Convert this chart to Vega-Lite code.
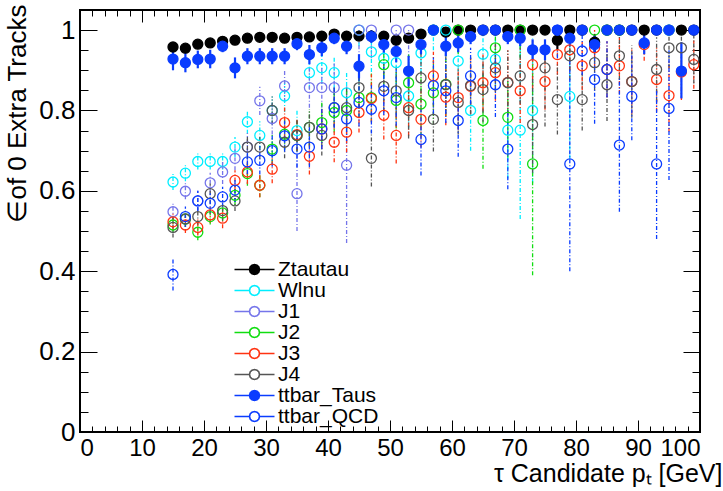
{
"$schema": "https://vega.github.io/schema/vega-lite/v6.json",
"width": 620, "height": 422,
"autosize": {"type": "none"},
"padding": {"left": 80, "top": 10, "right": 23, "bottom": 59},
"config": {"font": "Liberation Sans", "view": {"stroke": "#000", "strokeWidth": 2},
  "axis": {"domain": false, "grid": false, "tickColor": "#000", "tickWidth": 1, "labelColor": "#000", "titleColor": "#000", "labelFont": "Liberation Sans", "titleFont": "Liberation Sans", "titleFontWeight": "normal"}},
"datasets": {"d": [
{"s":"Ztautau","x":15,"v":0.958,"l":0.95,"h":0.966},{"s":"Ztautau","x":17,"v":0.955,"l":0.947,"h":0.963},{"s":"Ztautau","x":19,"v":0.965,"l":0.957,"h":0.973},{"s":"Ztautau","x":21,"v":0.968,"l":0.96,"h":0.976},{"s":"Ztautau","x":23,"v":0.972,"l":0.964,"h":0.98},{"s":"Ztautau","x":25,"v":0.975,"l":0.967,"h":0.983},{"s":"Ztautau","x":27,"v":0.98,"l":0.972,"h":0.988},{"s":"Ztautau","x":29,"v":0.982,"l":0.974,"h":0.99},{"s":"Ztautau","x":31,"v":0.982,"l":0.974,"h":0.99},{"s":"Ztautau","x":33,"v":0.98,"l":0.972,"h":0.988},{"s":"Ztautau","x":35,"v":0.982,"l":0.974,"h":0.99},{"s":"Ztautau","x":37,"v":0.983,"l":0.975,"h":0.991},{"s":"Ztautau","x":39,"v":0.985,"l":0.977,"h":0.993},{"s":"Ztautau","x":41,"v":0.99,"l":0.982,"h":0.998},{"s":"Ztautau","x":43,"v":0.985,"l":0.977,"h":0.993},{"s":"Ztautau","x":45,"v":0.985,"l":0.977,"h":0.993},{"s":"Ztautau","x":47,"v":0.985,"l":0.977,"h":0.993},{"s":"Ztautau","x":49,"v":0.985,"l":0.977,"h":0.993},{"s":"Ztautau","x":51,"v":0.975,"l":0.965,"h":0.985},{"s":"Ztautau","x":53,"v":0.98,"l":0.97,"h":0.99},{"s":"Ztautau","x":55,"v":0.99,"l":0.98,"h":1},{"s":"Ztautau","x":57,"v":1,"l":0.99,"h":1},{"s":"Ztautau","x":59,"v":0.995,"l":0.985,"h":1},{"s":"Ztautau","x":61,"v":1,"l":1,"h":1},{"s":"Ztautau","x":63,"v":1,"l":1,"h":1},{"s":"Ztautau","x":65,"v":1,"l":1,"h":1},{"s":"Ztautau","x":67,"v":1,"l":1,"h":1},{"s":"Ztautau","x":69,"v":1,"l":1,"h":1},{"s":"Ztautau","x":71,"v":1,"l":1,"h":1},{"s":"Ztautau","x":73,"v":1,"l":1,"h":1},{"s":"Ztautau","x":75,"v":1,"l":1,"h":1},{"s":"Ztautau","x":77,"v":0.975,"l":0.95,"h":0.995},{"s":"Ztautau","x":79,"v":1,"l":1,"h":1},{"s":"Ztautau","x":81,"v":1,"l":1,"h":1},{"s":"Ztautau","x":83,"v":0.97,"l":0.945,"h":0.99},{"s":"Ztautau","x":85,"v":1,"l":1,"h":1},{"s":"Ztautau","x":87,"v":1,"l":1,"h":1},{"s":"Ztautau","x":89,"v":1,"l":1,"h":1},{"s":"Ztautau","x":91,"v":1,"l":1,"h":1},{"s":"Ztautau","x":93,"v":1,"l":1,"h":1},{"s":"Ztautau","x":95,"v":1,"l":1,"h":1},{"s":"Ztautau","x":97,"v":1,"l":1,"h":1},{"s":"Ztautau","x":99,"v":1,"l":1,"h":1},
{"s":"Wlnu","x":15,"v":0.622,"l":0.602,"h":0.642},{"s":"Wlnu","x":17,"v":0.644,"l":0.624,"h":0.664},{"s":"Wlnu","x":19,"v":0.673,"l":0.653,"h":0.693},{"s":"Wlnu","x":21,"v":0.673,"l":0.653,"h":0.693},{"s":"Wlnu","x":23,"v":0.673,"l":0.653,"h":0.693},{"s":"Wlnu","x":25,"v":0.709,"l":0.684,"h":0.734},{"s":"Wlnu","x":27,"v":0.772,"l":0.742,"h":0.802},{"s":"Wlnu","x":29,"v":0.738,"l":0.703,"h":0.773},{"s":"Wlnu","x":31,"v":0.8,"l":0.765,"h":0.835},{"s":"Wlnu","x":33,"v":0.836,"l":0.796,"h":0.876},{"s":"Wlnu","x":35,"v":0.75,"l":0.7,"h":0.8},{"s":"Wlnu","x":37,"v":0.894,"l":0.854,"h":0.934},{"s":"Wlnu","x":39,"v":0.906,"l":0.866,"h":0.946},{"s":"Wlnu","x":41,"v":0.894,"l":0.854,"h":0.934},{"s":"Wlnu","x":43,"v":0.844,"l":0.794,"h":0.894},{"s":"Wlnu","x":45,"v":1,"l":0.96,"h":1},{"s":"Wlnu","x":47,"v":0.946,"l":0.896,"h":0.996},{"s":"Wlnu","x":49,"v":0.93,"l":0.88,"h":0.98},{"s":"Wlnu","x":51,"v":0.919,"l":0.859,"h":0.979},{"s":"Wlnu","x":53,"v":0.836,"l":0.756,"h":0.916},{"s":"Wlnu","x":55,"v":0.943,"l":0.893,"h":0.993},{"s":"Wlnu","x":57,"v":1,"l":0.95,"h":1},{"s":"Wlnu","x":59,"v":1,"l":0.95,"h":1},{"s":"Wlnu","x":61,"v":0.923,"l":0.853,"h":0.993},{"s":"Wlnu","x":63,"v":0.8,"l":0.7,"h":0.9},{"s":"Wlnu","x":65,"v":0.94,"l":0.88,"h":1},{"s":"Wlnu","x":67,"v":0.927,"l":0.857,"h":0.997},{"s":"Wlnu","x":69,"v":0.751,"l":0.631,"h":0.871},{"s":"Wlnu","x":71,"v":0.751,"l":0.53,"h":0.97},{"s":"Wlnu","x":73,"v":0.8,"l":0.62,"h":0.98},{"s":"Wlnu","x":79,"v":0.835,"l":0.68,"h":0.99},{"s":"Wlnu","x":95,"v":1,"l":1,"h":1},
{"s":"J1","x":15,"v":0.548,"l":0.528,"h":0.568},{"s":"J1","x":17,"v":0.599,"l":0.579,"h":0.619},{"s":"J1","x":19,"v":0.575,"l":0.55,"h":0.6},{"s":"J1","x":21,"v":0.62,"l":0.595,"h":0.645},{"s":"J1","x":23,"v":0.647,"l":0.617,"h":0.677},{"s":"J1","x":25,"v":0.681,"l":0.651,"h":0.711},{"s":"J1","x":27,"v":0.709,"l":0.674,"h":0.744},{"s":"J1","x":29,"v":0.824,"l":0.789,"h":0.859},{"s":"J1","x":31,"v":0.78,"l":0.74,"h":0.82},{"s":"J1","x":33,"v":0.861,"l":0.821,"h":0.901},{"s":"J1","x":35,"v":0.593,"l":0.5,"h":0.69},{"s":"J1","x":37,"v":0.857,"l":0.807,"h":0.907},{"s":"J1","x":39,"v":0.857,"l":0.807,"h":0.907},{"s":"J1","x":41,"v":0.857,"l":0.797,"h":0.917},{"s":"J1","x":43,"v":0.664,"l":0.47,"h":0.86},{"s":"J1","x":45,"v":1,"l":0.93,"h":1},{"s":"J1","x":47,"v":1,"l":0.93,"h":1},{"s":"J1","x":51,"v":1,"l":0.93,"h":1},{"s":"J1","x":53,"v":1,"l":0.93,"h":1},
{"s":"J2","x":15,"v":0.515,"l":0.495,"h":0.535},{"s":"J2","x":17,"v":0.53,"l":0.51,"h":0.55},{"s":"J2","x":19,"v":0.497,"l":0.477,"h":0.517},{"s":"J2","x":21,"v":0.536,"l":0.516,"h":0.556},{"s":"J2","x":23,"v":0.545,"l":0.525,"h":0.565},{"s":"J2","x":25,"v":0.589,"l":0.564,"h":0.614},{"s":"J2","x":27,"v":0.643,"l":0.613,"h":0.673},{"s":"J2","x":29,"v":0.614,"l":0.584,"h":0.644},{"s":"J2","x":31,"v":0.704,"l":0.669,"h":0.739},{"s":"J2","x":33,"v":0.741,"l":0.701,"h":0.781},{"s":"J2","x":35,"v":0.738,"l":0.698,"h":0.778},{"s":"J2","x":37,"v":0.758,"l":0.713,"h":0.803},{"s":"J2","x":39,"v":0.77,"l":0.72,"h":0.82},{"s":"J2","x":41,"v":0.795,"l":0.745,"h":0.845},{"s":"J2","x":43,"v":0.8,"l":0.75,"h":0.85},{"s":"J2","x":45,"v":0.832,"l":0.782,"h":0.882},{"s":"J2","x":47,"v":0.832,"l":0.772,"h":0.892},{"s":"J2","x":49,"v":0.914,"l":0.864,"h":0.964},{"s":"J2","x":51,"v":0.825,"l":0.755,"h":0.895},{"s":"J2","x":53,"v":0.869,"l":0.799,"h":0.939},{"s":"J2","x":55,"v":0.816,"l":0.736,"h":0.896},{"s":"J2","x":57,"v":0.844,"l":0.764,"h":0.924},{"s":"J2","x":59,"v":0.865,"l":0.785,"h":0.945},{"s":"J2","x":61,"v":1,"l":0.94,"h":1},{"s":"J2","x":65,"v":0.775,"l":0.655,"h":0.895},{"s":"J2","x":67,"v":0.956,"l":0.906,"h":1},{"s":"J2","x":69,"v":0.783,"l":0.683,"h":0.883},{"s":"J2","x":71,"v":1,"l":0.93,"h":1},{"s":"J2","x":73,"v":0.667,"l":0.39,"h":0.94},{"s":"J2","x":83,"v":1,"l":1,"h":1},{"s":"J2","x":85,"v":1,"l":1,"h":1},{"s":"J2","x":87,"v":1,"l":1,"h":1},
{"s":"J3","x":15,"v":0.523,"l":0.503,"h":0.543},{"s":"J3","x":17,"v":0.515,"l":0.495,"h":0.535},{"s":"J3","x":19,"v":0.509,"l":0.489,"h":0.529},{"s":"J3","x":21,"v":0.54,"l":0.52,"h":0.56},{"s":"J3","x":23,"v":0.532,"l":0.507,"h":0.557},{"s":"J3","x":25,"v":0.626,"l":0.601,"h":0.651},{"s":"J3","x":27,"v":0.647,"l":0.617,"h":0.677},{"s":"J3","x":29,"v":0.614,"l":0.584,"h":0.644},{"s":"J3","x":31,"v":0.654,"l":0.619,"h":0.689},{"s":"J3","x":33,"v":0.77,"l":0.73,"h":0.81},{"s":"J3","x":35,"v":0.74,"l":0.7,"h":0.78},{"s":"J3","x":37,"v":0.686,"l":0.641,"h":0.731},{"s":"J3","x":39,"v":0.754,"l":0.704,"h":0.804},{"s":"J3","x":41,"v":0.721,"l":0.671,"h":0.771},{"s":"J3","x":43,"v":0.746,"l":0.696,"h":0.796},{"s":"J3","x":45,"v":0.795,"l":0.745,"h":0.845},{"s":"J3","x":47,"v":0.83,"l":0.77,"h":0.89},{"s":"J3","x":49,"v":0.788,"l":0.728,"h":0.848},{"s":"J3","x":51,"v":0.738,"l":0.668,"h":0.808},{"s":"J3","x":53,"v":0.807,"l":0.737,"h":0.877},{"s":"J3","x":55,"v":0.778,"l":0.708,"h":0.848},{"s":"J3","x":57,"v":0.886,"l":0.826,"h":0.946},{"s":"J3","x":59,"v":0.833,"l":0.763,"h":0.903},{"s":"J3","x":61,"v":0.832,"l":0.752,"h":0.912},{"s":"J3","x":63,"v":0.86,"l":0.79,"h":0.93},{"s":"J3","x":65,"v":0.869,"l":0.799,"h":0.939},{"s":"J3","x":67,"v":0.894,"l":0.824,"h":0.964},{"s":"J3","x":69,"v":0.87,"l":0.79,"h":0.95},{"s":"J3","x":71,"v":0.849,"l":0.769,"h":0.929},{"s":"J3","x":73,"v":0.914,"l":0.854,"h":0.974},{"s":"J3","x":75,"v":0.872,"l":0.802,"h":0.942},{"s":"J3","x":77,"v":0.939,"l":0.889,"h":0.989},{"s":"J3","x":79,"v":0.951,"l":0.901,"h":1},{"s":"J3","x":81,"v":0.911,"l":0.851,"h":0.971},{"s":"J3","x":83,"v":0.956,"l":0.906,"h":1},{"s":"J3","x":85,"v":0.902,"l":0.832,"h":0.972},{"s":"J3","x":87,"v":0.911,"l":0.841,"h":0.981},{"s":"J3","x":89,"v":0.872,"l":0.792,"h":0.952},{"s":"J3","x":91,"v":0.964,"l":0.924,"h":1},{"s":"J3","x":93,"v":0.877,"l":0.797,"h":0.957},{"s":"J3","x":95,"v":0.837,"l":0.747,"h":0.927},{"s":"J3","x":97,"v":0.896,"l":0.826,"h":0.966},{"s":"J3","x":99,"v":0.914,"l":0.854,"h":0.974},
{"s":"J4","x":15,"v":0.509,"l":0.484,"h":0.534},{"s":"J4","x":17,"v":0.53,"l":0.51,"h":0.55},{"s":"J4","x":19,"v":0.536,"l":0.516,"h":0.556},{"s":"J4","x":21,"v":0.593,"l":0.568,"h":0.618},{"s":"J4","x":23,"v":0.551,"l":0.526,"h":0.576},{"s":"J4","x":25,"v":0.575,"l":0.55,"h":0.6},{"s":"J4","x":27,"v":0.709,"l":0.679,"h":0.739},{"s":"J4","x":29,"v":0.709,"l":0.679,"h":0.739},{"s":"J4","x":31,"v":0.8,"l":0.765,"h":0.835},{"s":"J4","x":33,"v":0.721,"l":0.681,"h":0.761},{"s":"J4","x":35,"v":0.738,"l":0.698,"h":0.778},{"s":"J4","x":37,"v":0.758,"l":0.713,"h":0.803},{"s":"J4","x":39,"v":0.738,"l":0.688,"h":0.788},{"s":"J4","x":41,"v":0.807,"l":0.757,"h":0.857},{"s":"J4","x":43,"v":0.807,"l":0.757,"h":0.857},{"s":"J4","x":45,"v":0.857,"l":0.807,"h":0.907},{"s":"J4","x":47,"v":0.681,"l":0.611,"h":0.751},{"s":"J4","x":49,"v":0.86,"l":0.8,"h":0.92},{"s":"J4","x":51,"v":0.849,"l":0.789,"h":0.909},{"s":"J4","x":53,"v":0.8,"l":0.73,"h":0.87},{"s":"J4","x":55,"v":0.881,"l":0.821,"h":0.941},{"s":"J4","x":57,"v":0.778,"l":0.698,"h":0.858},{"s":"J4","x":59,"v":0.864,"l":0.794,"h":0.934},{"s":"J4","x":61,"v":0.82,"l":0.74,"h":0.9},{"s":"J4","x":63,"v":0.862,"l":0.792,"h":0.932},{"s":"J4","x":65,"v":0.852,"l":0.772,"h":0.932},{"s":"J4","x":67,"v":0.906,"l":0.846,"h":0.966},{"s":"J4","x":69,"v":0.869,"l":0.789,"h":0.949},{"s":"J4","x":71,"v":0.886,"l":0.816,"h":0.956},{"s":"J4","x":73,"v":0.765,"l":0.645,"h":0.885},{"s":"J4","x":75,"v":0.906,"l":0.76,"h":0.976},{"s":"J4","x":77,"v":0.827,"l":0.74,"h":0.917},{"s":"J4","x":79,"v":0.936,"l":0.876,"h":0.996},{"s":"J4","x":81,"v":0.827,"l":0.75,"h":0.917},{"s":"J4","x":83,"v":0.919,"l":0.849,"h":0.989},{"s":"J4","x":85,"v":0.864,"l":0.774,"h":0.954},{"s":"J4","x":87,"v":0.936,"l":0.876,"h":0.996},{"s":"J4","x":89,"v":0.872,"l":0.782,"h":0.962},{"s":"J4","x":93,"v":0.902,"l":0.822,"h":0.982},{"s":"J4","x":95,"v":0.956,"l":0.906,"h":1},{"s":"J4","x":97,"v":0.956,"l":0.906,"h":1},{"s":"J4","x":99,"v":0.927,"l":0.867,"h":0.987},
{"s":"ttbar_Taus","x":15,"v":0.928,"l":0.9,"h":0.955},{"s":"ttbar_Taus","x":17,"v":0.919,"l":0.895,"h":0.943},{"s":"ttbar_Taus","x":19,"v":0.927,"l":0.905,"h":0.949},{"s":"ttbar_Taus","x":21,"v":0.928,"l":0.905,"h":0.951},{"s":"ttbar_Taus","x":23,"v":0.96,"l":0.945,"h":0.975},{"s":"ttbar_Taus","x":25,"v":0.906,"l":0.88,"h":0.932},{"s":"ttbar_Taus","x":27,"v":0.935,"l":0.915,"h":0.955},{"s":"ttbar_Taus","x":29,"v":0.935,"l":0.915,"h":0.955},{"s":"ttbar_Taus","x":31,"v":0.935,"l":0.915,"h":0.955},{"s":"ttbar_Taus","x":33,"v":0.935,"l":0.915,"h":0.955},{"s":"ttbar_Taus","x":35,"v":0.966,"l":0.95,"h":0.982},{"s":"ttbar_Taus","x":37,"v":0.939,"l":0.915,"h":0.963},{"s":"ttbar_Taus","x":39,"v":0.956,"l":0.935,"h":0.977},{"s":"ttbar_Taus","x":41,"v":0.98,"l":0.965,"h":0.995},{"s":"ttbar_Taus","x":43,"v":0.96,"l":0.94,"h":0.98},{"s":"ttbar_Taus","x":45,"v":0.91,"l":0.88,"h":0.94},{"s":"ttbar_Taus","x":47,"v":0.984,"l":0.968,"h":1},{"s":"ttbar_Taus","x":49,"v":0.964,"l":0.94,"h":0.988},{"s":"ttbar_Taus","x":51,"v":0.947,"l":0.92,"h":0.974},{"s":"ttbar_Taus","x":53,"v":0.898,"l":0.86,"h":0.936},{"s":"ttbar_Taus","x":55,"v":0.964,"l":0.94,"h":0.988},{"s":"ttbar_Taus","x":57,"v":1,"l":1,"h":1},{"s":"ttbar_Taus","x":59,"v":0.96,"l":0.935,"h":0.985},{"s":"ttbar_Taus","x":61,"v":0.968,"l":0.945,"h":0.991},{"s":"ttbar_Taus","x":63,"v":0.984,"l":0.965,"h":1},{"s":"ttbar_Taus","x":65,"v":1,"l":1,"h":1},{"s":"ttbar_Taus","x":67,"v":1,"l":1,"h":1},{"s":"ttbar_Taus","x":69,"v":0.984,"l":0.965,"h":1},{"s":"ttbar_Taus","x":71,"v":0.98,"l":0.96,"h":1},{"s":"ttbar_Taus","x":73,"v":0.951,"l":0.925,"h":0.977},{"s":"ttbar_Taus","x":75,"v":0.951,"l":0.925,"h":0.977},{"s":"ttbar_Taus","x":77,"v":1,"l":1,"h":1},{"s":"ttbar_Taus","x":79,"v":0.98,"l":0.96,"h":1},{"s":"ttbar_Taus","x":81,"v":1,"l":1,"h":1},{"s":"ttbar_Taus","x":83,"v":0.964,"l":0.943,"h":0.985},{"s":"ttbar_Taus","x":85,"v":1,"l":1,"h":1},{"s":"ttbar_Taus","x":87,"v":1,"l":1,"h":1},{"s":"ttbar_Taus","x":89,"v":1,"l":1,"h":1},{"s":"ttbar_Taus","x":91,"v":0.968,"l":0.94,"h":0.996},{"s":"ttbar_Taus","x":93,"v":1,"l":1,"h":1},{"s":"ttbar_Taus","x":95,"v":1,"l":1,"h":1},{"s":"ttbar_Taus","x":97,"v":0.898,"l":0.83,"h":0.97},{"s":"ttbar_Taus","x":99,"v":1,"l":1,"h":1},
{"s":"ttbar_QCD","x":15,"v":0.392,"l":0.352,"h":0.432},{"s":"ttbar_QCD","x":17,"v":0.536,"l":0.511,"h":0.561},{"s":"ttbar_QCD","x":19,"v":0.575,"l":0.55,"h":0.6},{"s":"ttbar_QCD","x":21,"v":0.569,"l":0.544,"h":0.594},{"s":"ttbar_QCD","x":23,"v":0.585,"l":0.56,"h":0.61},{"s":"ttbar_QCD","x":25,"v":0.602,"l":0.572,"h":0.632},{"s":"ttbar_QCD","x":27,"v":0.672,"l":0.642,"h":0.702},{"s":"ttbar_QCD","x":29,"v":0.676,"l":0.641,"h":0.711},{"s":"ttbar_QCD","x":31,"v":0.7,"l":0.66,"h":0.74},{"s":"ttbar_QCD","x":33,"v":0.737,"l":0.697,"h":0.777},{"s":"ttbar_QCD","x":35,"v":0.704,"l":0.659,"h":0.749},{"s":"ttbar_QCD","x":37,"v":0.709,"l":0.659,"h":0.759},{"s":"ttbar_QCD","x":39,"v":0.754,"l":0.704,"h":0.804},{"s":"ttbar_QCD","x":41,"v":0.807,"l":0.757,"h":0.857},{"s":"ttbar_QCD","x":43,"v":0.779,"l":0.724,"h":0.834},{"s":"ttbar_QCD","x":45,"v":0.82,"l":0.76,"h":0.88},{"s":"ttbar_QCD","x":47,"v":0.803,"l":0.743,"h":0.863},{"s":"ttbar_QCD","x":49,"v":0.849,"l":0.789,"h":0.909},{"s":"ttbar_QCD","x":51,"v":0.832,"l":0.762,"h":0.902},{"s":"ttbar_QCD","x":55,"v":0.728,"l":0.638,"h":0.818},{"s":"ttbar_QCD","x":57,"v":0.862,"l":0.792,"h":0.932},{"s":"ttbar_QCD","x":59,"v":0.849,"l":0.769,"h":0.929},{"s":"ttbar_QCD","x":61,"v":0.775,"l":0.685,"h":0.865},{"s":"ttbar_QCD","x":63,"v":0.886,"l":0.816,"h":0.956},{"s":"ttbar_QCD","x":67,"v":0.864,"l":0.784,"h":0.944},{"s":"ttbar_QCD","x":69,"v":0.704,"l":0.604,"h":0.804},{"s":"ttbar_QCD","x":77,"v":1,"l":0.93,"h":1},{"s":"ttbar_QCD","x":79,"v":0.667,"l":0.4,"h":0.93},{"s":"ttbar_QCD","x":81,"v":0.948,"l":0.888,"h":1},{"s":"ttbar_QCD","x":83,"v":0.877,"l":0.767,"h":0.987},{"s":"ttbar_QCD","x":85,"v":0.902,"l":0.832,"h":0.972},{"s":"ttbar_QCD","x":87,"v":0.714,"l":0.548,"h":0.88},{"s":"ttbar_QCD","x":89,"v":0.835,"l":0.726,"h":0.944},{"s":"ttbar_QCD","x":93,"v":0.667,"l":0.48,"h":0.854},{"s":"ttbar_QCD","x":95,"v":0.805,"l":0.627,"h":0.95}
]},
"data": {"name": "d"},
"resolve": {"axis": {"x": "independent", "y": "independent"}},
"layer": [
{
 "transform": [{"filter": {"not": {"field": "s", "oneOf": ["Ztautau", "ttbar_Taus"]}}}],
 "mark": {"type": "rule", "strokeWidth": 1.3, "strokeDash": [4, 2, 1, 2]},
 "encoding": {
  "x": {"field": "x", "type": "quantitative", "scale": {"domain": [0, 100], "nice": false, "zero": false},
        "axis": {"orient": "bottom", "values": [2,4,6,8,12,14,16,18,22,24,26,28,32,34,36,38,42,44,46,48,52,54,56,58,62,64,66,68,72,74,76,78,82,84,86,88,92,94,96,98], "tickSize": -6, "labels": false, "title": null}},
  "y": {"field": "l", "type": "quantitative", "scale": {"domain": [0, 1.05], "nice": false},
        "axis": {"orient": "left", "values": [0.05,0.1,0.15,0.25,0.3,0.35,0.45,0.5,0.55,0.65,0.7,0.75,0.85,0.9,0.95,1.05], "tickSize": -8, "labels": false, "title": null}},
  "y2": {"field": "h"},
  "color": {"field": "s", "type": "nominal", "legend": null,
    "scale": {"domain": ["ttbar_QCD","ttbar_Taus","J4","J3","J2","J1","Wlnu","Ztautau"], "range": ["#0a3cff","#0a3cff","#555555","#ff3311","#10dd10","#7575ea","#00eeff","#000000"]}}
 }
},
{
 "transform": [{"filter": {"field": "s", "equal": "Ztautau"}}],
 "mark": {"type": "rule", "strokeWidth": 2},
 "encoding": {
  "x": {"field": "x", "type": "quantitative", "scale": {"domain": [0, 100], "nice": false, "zero": false},
        "axis": {"orient": "top", "values": [0,10,20,30,40,50,60,70,80,90,100], "tickSize": -12, "labels": false, "title": null}},
  "y": {"field": "l", "type": "quantitative", "scale": {"domain": [0, 1.05], "nice": false},
        "axis": {"orient": "right", "values": [0,0.2,0.4,0.6,0.8,1], "tickSize": -17, "labels": false, "title": null}},
  "y2": {"field": "h"},
  "color": {"field": "s", "type": "nominal", "legend": null}
 }
},
{
 "transform": [{"filter": {"field": "s", "equal": "ttbar_Taus"}}],
 "mark": {"type": "rule", "strokeWidth": 2.2},
 "encoding": {
  "x": {"field": "x", "type": "quantitative", "scale": {"domain": [0, 100], "nice": false, "zero": false},
        "axis": {"orient": "top", "values": [2,4,6,8,12,14,16,18,22,24,26,28,32,34,36,38,42,44,46,48,52,54,56,58,62,64,66,68,72,74,76,78,82,84,86,88,92,94,96,98], "tickSize": -6, "labels": false, "title": null}},
  "y": {"field": "l", "type": "quantitative", "scale": {"domain": [0, 1.05], "nice": false},
        "axis": {"orient": "right", "values": [0.05,0.1,0.15,0.25,0.3,0.35,0.45,0.5,0.55,0.65,0.7,0.75,0.85,0.9,0.95,1.05], "tickSize": -8, "labels": false, "title": null}},
  "y2": {"field": "h"},
  "color": {"field": "s", "type": "nominal", "legend": null}
 }
},
{
 "mark": {"type": "point", "shape": "circle", "size": 100, "strokeWidth": 1.3, "opacity": 1},
 "encoding": {
  "x": {"field": "x", "type": "quantitative", "scale": {"domain": [0, 100], "nice": false, "zero": false},
        "axis": {"orient": "bottom", "values": [0,10,20,30,40,50,60,70,80,90,100], "tickSize": -12, "labelFontSize": 24, "labelPadding": 16, "title": "τ Candidate pₜ [GeV]", "titleFontSize": 25, "titleX": 642, "titleY": 29, "titleAlign": "right", "titleAnchor": "end", "titleBaseline": "top"}},
  "y": {"field": "v", "type": "quantitative", "scale": {"domain": [0, 1.05], "nice": false},
        "axis": {"orient": "left", "values": [0,0.2,0.4,0.6,0.8,1], "format": "~g", "tickSize": -17, "labelFontSize": 26, "labelPadding": 22, "title": "∈of 0 Extra Tracks", "titleFontSize": 26, "titleAnchor": "end", "titleX": -63, "titleY": -6, "titleAlign": "right", "titleBaseline": "middle"}},
  "stroke": {"field": "s", "type": "nominal",
    "scale": {"domain": ["Ztautau","Wlnu","J1","J2","J3","J4","ttbar_Taus","ttbar_QCD"], "range": ["#000000","#00eeff","#7575ea","#10dd10","#ff3311","#555555","#0a3cff","#0a3cff"]},
    "legend": {"title": null, "orient": "none", "legendX": 164, "legendY": 249, "symbolType": "M-4,0H-1M1,0L0.866,0.5L0.5,0.866L0,1L-0.5,0.866L-0.866,0.5L-1,0L-0.866,-0.5L-0.5,-0.866L0,-1L0.5,-0.866L0.866,-0.5ZM1,0H4", "symbolSize": 100, "symbolStrokeWidth": 1.6, "labelFontSize": 21, "labelOffset": 13, "rowPadding": -5, "padding": 0, "labelColor": "#000", "labelFont": "Liberation Sans"}},
  "fill": {"field": "s", "type": "nominal",
    "scale": {"domain": ["Ztautau","Wlnu","J1","J2","J3","J4","ttbar_Taus","ttbar_QCD"], "range": ["#000000","transparent","transparent","transparent","transparent","transparent","#0a3cff","transparent"]},
    "legend": {"title": null, "orient": "none", "legendX": 164, "legendY": 249, "symbolType": "M-4,0H-1M1,0L0.866,0.5L0.5,0.866L0,1L-0.5,0.866L-0.866,0.5L-1,0L-0.866,-0.5L-0.5,-0.866L0,-1L0.5,-0.866L0.866,-0.5ZM1,0H4", "symbolSize": 100, "symbolStrokeWidth": 1.6, "labelFontSize": 21, "labelOffset": 13, "rowPadding": -5, "padding": 0, "labelColor": "#000", "labelFont": "Liberation Sans"}}
 }
}
]
}
